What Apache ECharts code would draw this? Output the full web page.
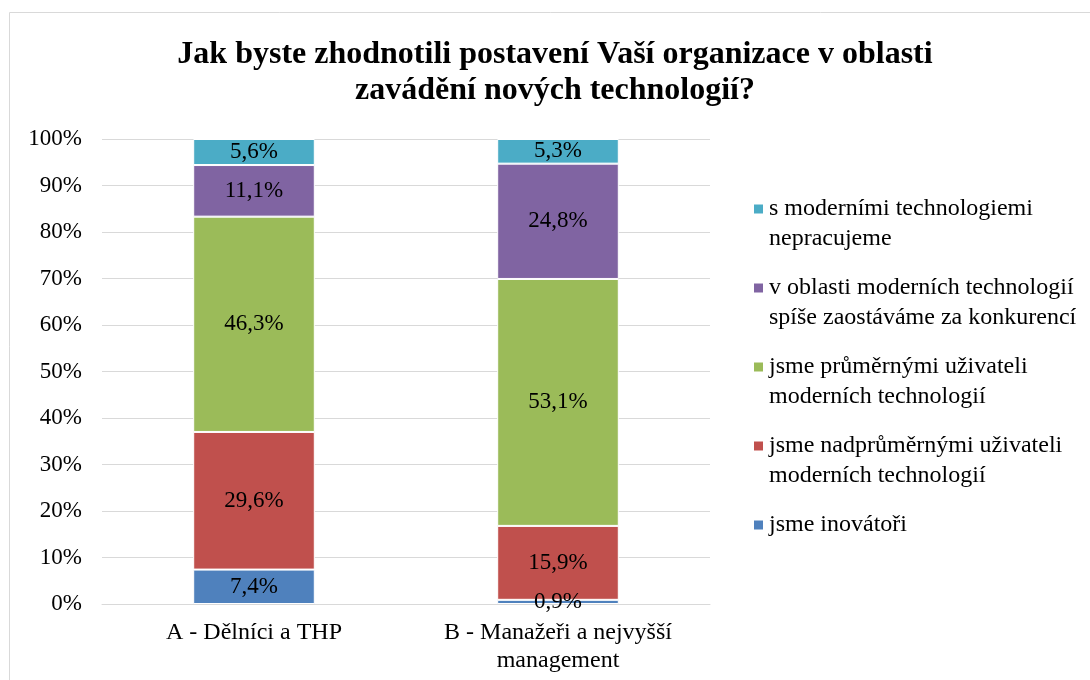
<!DOCTYPE html>
<html>
<head>
<meta charset="utf-8">
<script src="https://cdn.jsdelivr.net/npm/echarts@6/dist/echarts.min.js"></script>
<style>
  html, body { margin: 0; padding: 0; background: #fff; }
  #chart { width: 1090px; height: 680px; }
</style>
</head>
<body>
<div id="chart"></div>
<script>
const categories = ['A - Dělníci a THP', 'B - Manažeři a nejvyšší\nmanagement']
const seriesNames = [
  'jsme inovátoři',
  'jsme nadprůměrnými uživateli\nmoderních technologií',
  'jsme průměrnými uživateli\nmoderních technologií',
  'v oblasti moderních technologií\nspíše zaostáváme za konkurencí',
  's moderními technologiemi\nnepracujeme'
]
const inovatori = [7.4, 0.9]
const nadprumerni = [29.6, 15.9]
const prumerni = [46.3, 53.1]
const zaostavame = [11.1, 24.8]
const nepracujeme = [5.6, 5.3]
const colors = ['#4F81BD', '#C0504D', '#9BBB59', '#8064A2', '#4BACC6']

const FONT = '"Liberation Serif", "Times New Roman", serif'
const values = [inovatori, nadprumerni, prumerni, zaostavame, nepracujeme]

const chart = echarts.init(document.getElementById('chart'))

const option = {
  animation: false,
  color: colors,
  graphic: [{
    type: 'rect',
    shape: { x: 9.5, y: 12.5, width: 1200, height: 800 },
    style: { fill: 'none', stroke: '#d9d9d9', lineWidth: 1 },
    silent: true
  }],
  title: {
    text: 'Jak byste zhodnotili postavení Vaší organizace v oblasti\nzavádění nových technologií?',
    left: 555,
    top: 37,
    textAlign: 'center',
    padding: 0,
    textStyle: {
      fontFamily: FONT,
      fontSize: 32,
      fontWeight: 'bold',
      color: '#000',
      lineHeight: 36
    }
  },
  legend: {
    orient: 'vertical',
    left: 752,
    top: 164,
    padding: 0,
    itemWidth: 11,
    itemHeight: 11,
    itemGap: -11,
    icon: 'rect',
    data: seriesNames.slice().reverse(),
    // prázdný řádek navíc, aby ikonka seděla u prvního řádku textu
    formatter: name => name.indexOf('\n') >= 0 ? '\n' + name : '\n' + name + '\n',
    textStyle: {
      fontFamily: FONT,
      fontSize: 24,
      lineHeight: 30,
      color: '#000'
    }
  },
  grid: {
    left: 102,
    right: 380,
    top: 139,
    bottom: 76
  },
  xAxis: {
    type: 'category',
    data: categories,
    axisLine: { lineStyle: { color: '#d9d9d9' } },
    axisTick: { show: false },
    axisLabel: {
      fontFamily: FONT,
      fontSize: 24,
      color: '#000',
      lineHeight: 28,
      margin: 15
    }
  },
  yAxis: {
    type: 'value',
    min: 0,
    max: 100,
    interval: 10,
    axisLine: { show: false },
    axisTick: { show: false },
    splitLine: { lineStyle: { color: '#d9d9d9' } },
    axisLabel: {
      fontFamily: FONT,
      fontSize: 23,
      color: '#000',
      margin: 20,
      formatter: v => v + '%'
    }
  },
  series: seriesNames.map((name, i) => ({
    name: name,
    type: 'bar',
    stack: 'total',
    barWidth: '40%',
    data: values[i],
    itemStyle: { borderColor: '#fff', borderWidth: 1 },
    label: {
      show: true,
      position: 'inside',
      fontFamily: FONT,
      fontSize: 23,
      color: '#000',
      formatter: p => p.value.toFixed(1).replace('.', ',') + '%'
    }
  }))
}

chart.setOption(option)
</script>
</body>
</html>
